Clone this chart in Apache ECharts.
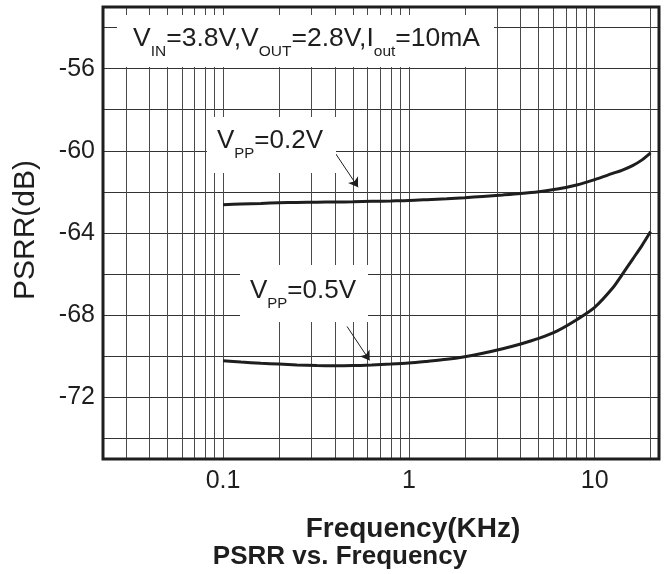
<!DOCTYPE html>
<html><head><meta charset="utf-8">
<script src="https://cdn.jsdelivr.net/npm/echarts@6/dist/echarts.min.js"></script>
<style>html,body{margin:0;padding:0;background:#fff}#c{width:667px;height:574px}</style>
</head><body><div id="c"></div>
<script>
// ---- data ----
const freq02 = [0.1, 0.125, 0.16, 0.2, 0.25, 0.32, 0.4, 0.5, 0.63, 0.8, 1, 1.25, 1.6, 2, 2.5, 3.2, 4, 5, 6.3, 8, 10, 12.5, 14, 16, 18, 20];
const psrr02 = [-62.62, -62.59, -62.56, -62.53, -62.51, -62.5, -62.49, -62.48, -62.46, -62.44, -62.42, -62.38, -62.33, -62.28, -62.22, -62.15, -62.08, -61.99, -61.86, -61.66, -61.4, -61.1, -60.95, -60.72, -60.44, -60.1];
const freq05 = [0.1, 0.125, 0.16, 0.2, 0.25, 0.32, 0.4, 0.5, 0.63, 0.8, 1, 1.25, 1.6, 2, 2.5, 3.2, 4, 5, 6.3, 8, 10, 12.5, 14, 16, 18, 20];
const psrr05 = [-70.22, -70.28, -70.34, -70.38, -70.42, -70.45, -70.46, -70.45, -70.42, -70.38, -70.33, -70.25, -70.15, -70.02, -69.85, -69.63, -69.4, -69.13, -68.76, -68.22, -67.62, -66.68, -66.05, -65.28, -64.6, -63.93];
const yTickLabels = [-56, -60, -64, -68, -72];
const xTickLabels = [0.1, 1, 10];
const hGridValues = [-54, -56, -58, -60, -62, -64, -66, -68, -70, -72, -74];
const vGridValues = [0.03, 0.04, 0.05, 0.06, 0.07, 0.08, 0.09, 0.1, 0.2, 0.3, 0.4, 0.5, 0.6, 0.7, 0.8, 0.9, 1, 2, 3, 4, 5, 6, 7, 8, 9, 10, 20];
const arrow02 = [[0.399, -60.07], [0.533, -61.77]];
const arrow05 = [[0.465, -68.55], [0.615, -70.2]];
const xMin = 0.0226, xMax = 22.2, yMin = -75, yMax = -53;

const FONT = "'Liberation Sans', Arial, Helvetica, sans-serif";
const INK = '#1e1e1e';

const chart = echarts.init(document.getElementById('c'), null, {renderer: 'canvas'});

function richLabel(parts) {
  return parts.map(p => `{${p[0]}|${p[1]}}`).join('');
}
const richStyles = {
  m: {fontSize: 26, fontFamily: FONT, fill: INK, lineHeight: 30},
  s: {fontSize: 15, fontFamily: FONT, fill: INK, lineHeight: 30, padding: [26, 0, 0, 0]}
};
const richTitle = {
  m: {fontSize: 26.5, fontFamily: FONT, fill: INK, lineHeight: 30},
  s: {fontSize: 15.5, fontFamily: FONT, fill: INK, lineHeight: 30, padding: [26, 0, 0, 0]}
};

const option = {
  animation: false,
  backgroundColor: '#fff',
  grid: {left: 103, right: 8, top: 7, bottom: 115, show: true, borderColor: INK, borderWidth: 3, backgroundColor: 'transparent', z: 10},
  xAxis: {
    type: 'log', logBase: 10, min: xMin, max: xMax,
    axisLine: {show: false}, axisTick: {show: false}, splitLine: {show: false}, minorTick: {show: false},
    axisLabel: {
      show: true, margin: 10, fontSize: 25, fontFamily: FONT, color: INK,
      showMinLabel: false, showMaxLabel: false,
      formatter: v => {
        const hit = xTickLabels.find(t => Math.abs(Math.log10(v) - Math.log10(t)) < 1e-6);
        return hit === undefined ? '' : String(hit);
      }
    }
  },
  yAxis: {
    type: 'value', min: yMin, max: yMax, interval: 1,
    axisLine: {show: false}, axisTick: {show: false}, splitLine: {show: false},
    axisLabel: {
      margin: 8, fontSize: 25, fontFamily: FONT, color: INK,
      formatter: v => yTickLabels.includes(v) ? String(v) : ''
    }
  },
  series: [
    {
      type: 'line', name: 'grid', data: [], silent: true, z: 1,
      markLine: {
        silent: true, symbol: ['none', 'none'], label: {show: false}, animation: false,
        lineStyle: {color: '#333', width: 1, type: 'solid'},
        emphasis: {disabled: true},
        data: hGridValues.map(v => ({yAxis: v})).concat(vGridValues.map(v => ({xAxis: v, lineStyle: {color: '#4a4a4a', width: 1, type: 'solid'}})))
      }
    },
    {
      type: 'line', name: 'Vpp=0.2V', data: freq02.map((f, i) => [f, psrr02[i]]),
      showSymbol: false, smooth: 0.3, z: 5,
      lineStyle: {color: INK, width: 3}
    },
    {
      type: 'line', name: 'Vpp=0.5V', data: freq05.map((f, i) => [f, psrr05[i]]),
      showSymbol: false, smooth: 0.3, z: 5,
      lineStyle: {color: INK, width: 3}
    },
    {
      type: 'line', name: 'arrows', data: [], silent: true, z: 6,
      markLine: {
        silent: true, symbol: ['none', 'arrow'], symbolSize: 9, label: {show: false}, animation: false,
        lineStyle: {color: INK, width: 1, type: 'solid'},
        itemStyle: {color: INK},
        emphasis: {disabled: true},
        data: [
          [{coord: arrow02[0]}, {coord: arrow02[1]}],
          [{coord: arrow05[0]}, {coord: arrow05[1]}]
        ]
      }
    }
  ],
  graphic: [
    {type: 'rect', z: 20, shape: {x: 117, y: 15, width: 377, height: 52}, style: {fill: '#fff'}},
    {type: 'rect', z: 20, shape: {x: 207, y: 117, width: 129, height: 56}, style: {fill: '#fff'}},
    {type: 'rect', z: 20, shape: {x: 240, y: 265, width: 128, height: 57}, style: {fill: '#fff'}},
    {type: 'text', z: 21, x: 133, y: 39, style: {
      text: richLabel([['m','V'],['s','IN'],['m','=3.8V,V'],['s','OUT'],['m','=2.8V,I'],['s','out'],['m','=10mA']]),
      rich: richTitle, align: 'left', verticalAlign: 'middle'}},
    {type: 'text', z: 21, x: 217, y: 141, style: {
      text: richLabel([['m','V'],['s','PP'],['m','=0.2V']]),
      rich: richStyles, align: 'left', verticalAlign: 'middle'}},
    {type: 'text', z: 21, x: 250, y: 291, style: {
      text: richLabel([['m','V'],['s','PP'],['m','=0.5V']]),
      rich: richStyles, align: 'left', verticalAlign: 'middle'}},
    {type: 'text', z: 21, x: 26, y: 230, rotation: Math.PI / 2, style: {
      text: 'PSRR(dB)', font: `30px ${FONT}`, fill: INK, align: 'center', verticalAlign: 'middle'}},
    {type: 'text', z: 21, x: 413, y: 529, style: {
      text: 'Frequency(KHz)', font: `bold 28px ${FONT}`, fill: INK, align: 'center', verticalAlign: 'middle'}},
    {type: 'text', z: 21, x: 340, y: 557, style: {
      text: 'PSRR vs. Frequency', font: `bold 26px ${FONT}`, fill: INK, align: 'center', verticalAlign: 'middle'}}
  ]
};
chart.setOption(option);
</script>
</body></html>
